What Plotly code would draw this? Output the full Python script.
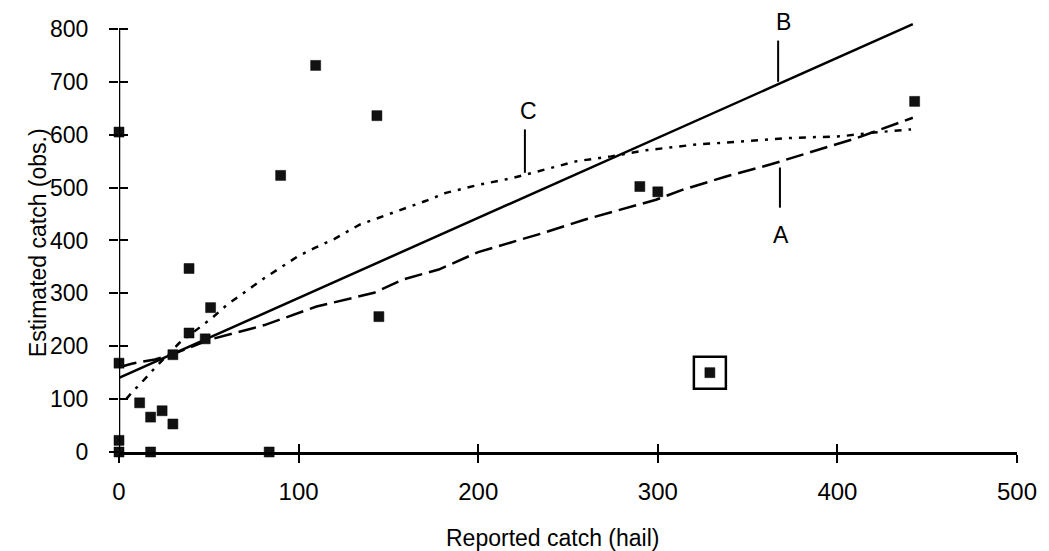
import plotly.graph_objects as go

# Observed points
obs_x = [0, 0, 0, 0, 11.5, 17.6, 24, 30, 17.6, 83.6, 30, 39, 48, 39, 51, 90, 109.5, 143.6, 144.7, 290, 300, 443, 329]
obs_y = [605, 168, 22, 0, 93, 66, 78, 53, 0, 0, 184, 225, 214, 347, 273, 523, 731, 636, 256, 502, 492, 663, 150]

# Highlighted (boxed) point
boxed_x = [329]
boxed_y = [150]

# Curve A (dashed)
a_x = [0, 7, 20, 30, 50, 65, 81, 110, 142, 158, 178, 200, 237, 260, 283, 299, 314, 338, 363, 384, 411, 442]
a_y = [160, 167, 175, 185, 212, 225, 240, 275, 301, 326, 345, 378, 415, 440, 462, 477, 496, 521, 544, 566, 594, 632]

# Line B (solid)
b_x = [0, 442]
b_y = [140, 809]

# Curve C (dotted)
c_x = [4, 7, 13, 20, 33.5, 52, 60, 66.5, 74, 81, 89.6, 99.6, 109, 120, 134, 144.6, 154.6, 171, 182, 200, 219, 237, 255, 274, 292, 320, 347, 375, 402, 420, 441]
c_y = [100, 112, 133, 159, 206, 254, 278, 293, 312, 329, 348, 370, 386, 403, 430, 443, 455, 475, 490, 505, 518, 534, 550, 559, 570, 581, 587, 594, 597, 604, 610]

# Curve labels and their pointer segments
lab_text = ["A", "B", "C"]
lab_x = [368.5, 370, 228]
lab_y = [411, 814, 644]
ptr_x = [368, 367, 226]
ptr_y0 = [462, 700, 528]
ptr_y1 = [538, 778, 610]

x_ticks = [0, 100, 200, 300, 400, 500]
y_ticks = [0, 100, 200, 300, 400, 500, 600, 700, 800]
X_MAX = 500
Y_TOP = 800      # top of drawn y axis
Y_VIEW = 815     # visible range (headroom so line B and label B fit)

FONT = "Liberation Sans, Arial, sans-serif"

fig = go.Figure()

fig.add_trace(go.Scatter(x=a_x, y=a_y, mode="lines",
                         line=dict(color="black", width=2.5, dash="18px,7px"),
                         showlegend=False))
fig.add_trace(go.Scatter(x=b_x, y=b_y, mode="lines",
                         line=dict(color="black", width=2.5),
                         showlegend=False))
fig.add_trace(go.Scatter(x=c_x, y=c_y, mode="lines",
                         line=dict(color="black", width=2.5, dash="7px,7px,3px,7px"),
                         showlegend=False))
fig.add_trace(go.Scatter(x=obs_x, y=obs_y, mode="markers",
                         marker=dict(symbol="square", size=10, color="#111111",
                                     line=dict(color="black", width=0.5)),
                         cliponaxis=False, showlegend=False))
fig.add_trace(go.Scatter(x=boxed_x, y=boxed_y, mode="markers",
                         marker=dict(symbol="square-open", size=32, color="black",
                                     line=dict(color="black", width=2.5)),
                         cliponaxis=False, showlegend=False))

# pointer segments
for px, y0, y1 in zip(ptr_x, ptr_y0, ptr_y1):
    fig.add_trace(go.Scatter(x=[px, px], y=[y0, y1], mode="lines",
                             line=dict(color="black", width=2),
                             showlegend=False))

# invisible trace on overlay axes (for crossing ticks)
fig.add_trace(go.Scatter(x=[0], y=[0], xaxis="x2", yaxis="y2", mode="markers",
                         marker=dict(opacity=0), showlegend=False, hoverinfo="skip"))

# y axis line drawn from 0 to 800
fig.add_shape(type="line", xref="x", yref="y", x0=0, x1=0, y0=0, y1=Y_TOP,
              line=dict(color="black", width=2.5))

for t, x, y in zip(lab_text, lab_x, lab_y):
    fig.add_annotation(x=x, xref="x", y=y / Y_VIEW, yref="paper", text=t, showarrow=False,
                       xanchor="center", yanchor="middle",
                       font=dict(family=FONT, size=23, color="black"))

fig.add_annotation(xref="paper", yref="paper", x=0.483, y=-0.20, text="Reported catch (hail)",
                   showarrow=False, font=dict(family=FONT, size=23, color="black"),
                   xanchor="center", yanchor="middle")
fig.add_annotation(xref="paper", yref="paper", x=-0.090, y=0.485, text="Estimated catch (obs.)",
                   textangle=-90, showarrow=False, font=dict(family=FONT, size=23, color="black"),
                   xanchor="center", yanchor="middle")

axis_common = dict(showgrid=False, zeroline=False, color="black")

fig.update_layout(
    width=1049, height=551,
    margin=dict(l=119, r=21, t=21, b=99),
    paper_bgcolor="white", plot_bgcolor="white",
    font=dict(family=FONT, size=23, color="black"),
    showlegend=False,
    hovermode=False,
    xaxis=dict(range=[0, X_MAX], tickvals=x_ticks, ticks="outside", ticklen=8, tickwidth=2,
               showline=True, linewidth=2.5, linecolor="black",
               ticklabelstandoff=9, tickfont=dict(size=24), **axis_common),
    yaxis=dict(range=[0, Y_VIEW], tickvals=y_ticks, ticks="outside", ticklen=9, tickwidth=2,
               showline=False,
               ticklabelstandoff=16, tickfont=dict(size=23), **axis_common),
    xaxis2=dict(range=[0, X_MAX], tickvals=x_ticks, ticks="inside", ticklen=8, tickwidth=2,
                overlaying="x", anchor="y2", side="bottom", showline=False,
                showticklabels=False, **axis_common),
    yaxis2=dict(range=[0, Y_VIEW], tickvals=y_ticks, ticks="inside", ticklen=9, tickwidth=2,
                overlaying="y", anchor="x2", side="left", showline=False,
                showticklabels=False, **axis_common),
)

fig.write_html(
    "out.html",
    config={"displayModeBar": False, "staticPlot": True},
    post_script="document.body.style.margin='0';document.body.style.overflow='hidden';",
)
